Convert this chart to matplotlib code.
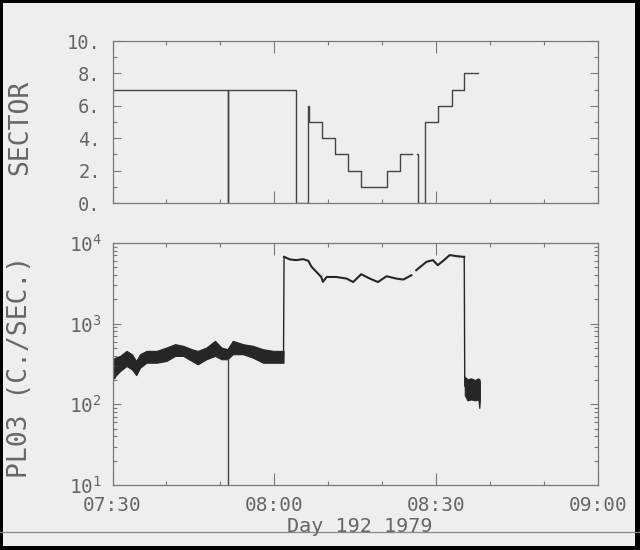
import numpy as np
import matplotlib
matplotlib.use('Agg')
import matplotlib.pyplot as plt
from matplotlib.ticker import MultipleLocator, FuncFormatter, LogLocator, NullFormatter
from matplotlib.patches import Rectangle
from matplotlib.lines import Line2D

# time axis: minutes after 07:30, day 192 1979
start_min = 7 * 60 + 30

# sector (step trace), nan = data gap
sector_t = [0.0, 21.4, 21.5, 34.1, 36.3, 36.4, 38.9, 41.3, 43.7, 46.1, 50.9, 53.3, 55.6,
            56.5, 56.6, 58.0, 60.4, 63.0, 65.2, 67.8]
sector_v = [7, 0, 7, 0, 6, 5, 4, 3, 2, 1, 2, 3, np.nan, 3, 0, 5, 6, 7, 8, 8]

# PL03 count rate, first noisy stretch (lower / upper envelope)
seg1_t = [0.3, 0.5, 1.4, 2.6, 3.6, 4.4, 5.1, 6.3, 8.2, 10.0, 11.6, 13.1, 14.7, 15.8, 17.4,
          19.0, 20.2, 21.3, 22.3, 24.2, 26.0, 27.9, 29.8, 31.7]
seg1_lo = [210, 224, 258, 299, 271, 230, 284, 328, 328, 345, 398, 398, 345, 313, 362,
           398, 362, 362, 418, 418, 379, 328, 328, 328]
seg1_hi = [370, 379, 398, 460, 418, 345, 418, 460, 460, 506, 557, 531, 482, 460, 506,
           613, 506, 482, 613, 557, 531, 482, 460, 460]

# high-rate stretch
seg2_t = [31.8, 32.9, 34.1, 35.3, 36.3, 36.9, 37.8, 38.7, 39.0, 39.7, 41.5, 43.4, 44.6,
          46.1, 47.7, 49.2, 50.8, 52.6, 53.9, 55.4, 55.8, 56.3, 58.2, 59.4, 60.3, 61.3,
          62.5, 63.7, 65.0, 65.2]
seg2_v = [6740, 6250, 6130, 6310, 6010, 5060, 4380, 3790, 3300, 3790, 3790, 3620, 3280,
          4100, 3620, 3280, 3870, 3620, 3520, 3980, np.nan, 4600, 5840, 6130, 5310, 6010,
          7080, 6880, 6740, 6740]

# low-rate block at the end
seg3_t = [65.3, 65.8, 66.5, 67.2, 67.8, 68.0, 68.1]
seg3_lo = [130, 112, 115, 112, 115, 90, 115]
seg3_hi = [220, 205, 210, 200, 210, 205, 195]

dropout_t = 21.4

ink = '#666666'
frame = '#7a7a7a'
dark = '#262626'
bg = '#eeeeee'

plt.rcParams['font.family'] = 'DejaVu Sans Mono'
plt.rcParams['mathtext.fontset'] = 'custom'
plt.rcParams['mathtext.rm'] = 'DejaVu Sans Mono'

fig = plt.figure(figsize=(6.4, 5.5), dpi=100, facecolor=bg)
ax1 = fig.add_axes([0.1758, 0.6309, 0.7586, 0.2945])
ax2 = fig.add_axes([0.1758, 0.1182, 0.7586, 0.44])


def hhmm(m, pos):
    tot = int(round(start_min + m))
    return f"{tot // 60:02d}:{tot % 60:02d}"


for ax in (ax1, ax2):
    ax.set_facecolor(bg)
    ax.set_xlim(0, 90)
    for s in ax.spines.values():
        s.set_color(frame)
        s.set_linewidth(0.9)
    ax.xaxis.set_major_locator(MultipleLocator(30))
    ax.xaxis.set_minor_locator(MultipleLocator(10))
    ax.xaxis.set_major_formatter(FuncFormatter(hhmm))
    ax.tick_params(which='both', direction='in', top=True, right=True, colors=frame,
                   labelcolor=ink, width=0.8, labelsize=14)
    ax.tick_params(axis='x', which='major', length=8.5, pad=8)
    ax.tick_params(axis='x', which='minor', length=3)
    ax.tick_params(axis='y', which='major', length=6)
    ax.tick_params(axis='y', which='minor', length=3)

# top panel: sector
ax1.step(sector_t, sector_v, where='post', color='#444444', lw=1.0)
ax1.set_ylim(0, 10)
ax1.yaxis.set_major_locator(MultipleLocator(2))
ax1.yaxis.set_minor_locator(MultipleLocator(1))
ax1.yaxis.set_major_formatter(FuncFormatter(lambda v, p: f"{int(round(v))}."))
ax1.tick_params(axis='x', labelbottom=False)
ax1.tick_params(axis='y', pad=8.5, labelsize=13.5)

# bottom panel: count rate
seg1_mid = list(np.sqrt(np.array(seg1_lo) * np.array(seg1_hi)))
seg3_mid = list(np.sqrt(np.array(seg3_lo) * np.array(seg3_hi)))
ax2.fill_between(seg1_t, seg1_lo, seg1_hi, color=dark, lw=0.8)
ax2.fill_between(seg3_t, seg3_lo, seg3_hi, color=dark, lw=0.8)
ax2.plot(seg1_t + seg2_t[:1], seg1_mid + seg2_v[:1], color=dark, lw=1.0)
ax2.plot(seg2_t, seg2_v, color=dark, lw=1.5)
ax2.plot(seg2_t[-1:] + seg3_t, seg2_v[-1:] + seg3_mid, color=dark, lw=1.0)
drop_v = np.interp(dropout_t, seg1_t, seg1_lo)
ax2.plot([dropout_t, dropout_t], [drop_v, 1], color='#444444', lw=1.0)
ax2.set_yscale('log')
ax2.set_ylim(10, 1e4)
ax2.yaxis.set_minor_locator(LogLocator(base=10, subs=np.arange(2, 10)))
ax2.yaxis.set_minor_formatter(NullFormatter())
ax2.tick_params(axis='y', pad=7.5)

# axis titles
fig.text(20 / 640, 1 - 127 / 550, 'SECTOR', rotation=90, ha='center', va='center',
         fontsize=19, color=ink)
fig.text(20 / 640, 1 - 367 / 550, 'PL03 (C./SEC.)', rotation=90, ha='center', va='center',
         fontsize=19, color=ink)
fig.text(360 / 640, 1 - 527 / 550, 'Day 192 1979', ha='center', va='center',
         fontsize=14.5, color=ink, zorder=5)

# page edge and scan border
fig.add_artist(Line2D([0, 1], [1 - 532 / 550] * 2, transform=fig.transFigure,
                      color='#8a8a8a', lw=0.9))
for r in [(0, 0, 3 / 640, 1), (635 / 640, 0, 5 / 640, 1), (0, 0, 1, 4 / 550),
          (0, 1 - 3 / 550, 1, 3 / 550)]:
    fig.add_artist(Rectangle(r[:2], r[2], r[3], transform=fig.transFigure,
                             color='black', lw=0))

fig.savefig('out.png', dpi=100, facecolor=bg)
